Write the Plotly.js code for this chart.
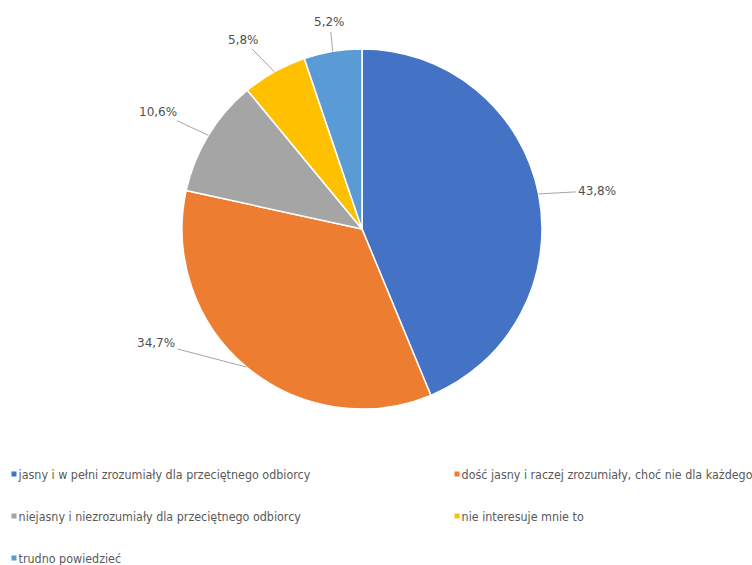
<!DOCTYPE html>
<html>
<head>
<meta charset="utf-8">
<script src="https://cdn.plot.ly/plotly-3.0.1.min.js"></script>
<style>
html,body{margin:0;padding:0;background:#fff;}
#chart{width:752px;height:565px;}
.legend .scrollbox{clip-path:none !important;}
.legendpoints path{transform:scale(0.42);stroke-width:0 !important;}
.legend .legendtext{transform:translate(-45px,0) scale(1.24);}
.legend .traces:nth-child(even) .legendpoints path{transform:translate(78px,0) scale(0.42);}
.legend .traces:nth-child(even) .legendtext{transform:translate(33px,0) scale(1.24);}
</style>
</head>
<body>
<div id="chart"></div>
<script>
const categories = [
  "jasny i w pełni zrozumiały dla przeciętnego odbiorcy",
  "dość jasny i raczej zrozumiały, choć nie dla każdego",
  "niejasny i niezrozumiały dla przeciętnego odbiorcy",
  "nie interesuje mnie to",
  "trudno powiedzieć"
];
const values = [43.8, 34.7, 10.6, 5.8, 5.2];
const colors = ["#4472C4", "#ED7D31", "#A5A5A5", "#FFC000", "#5B9BD5"];
// label placement tweak (degrees) relative to slice mid-angle
const labelAngleShift = [2, 21, -1.5, -3, 0.5];

const W = 752, H = 565;
const cx = 362, cy = 229, R = 180;

const total = values.reduce((a, b) => a + b, 0);
const annotations = [];
let cum = 0;
values.forEach((v, i) => {
  const mid = (cum + v / 2) / total * 2 * Math.PI;
  cum += v;
  const ex = cx + R * Math.sin(mid), ey = cy - R * Math.cos(mid);
  const la = mid + labelAngleShift[i] * Math.PI / 180;
  const s = Math.sin(la), c = Math.cos(la);
  const lr = R + 18 + Math.abs(s) * 40 + Math.abs(c) * 5;
  const lx = cx + lr * s, ly = cy - lr * c;
  annotations.push({
    xref: 'paper', yref: 'paper',
    x: ex / W, y: 1 - ey / H,
    ax: lx - ex, ay: ly - ey,
    text: v.toFixed(1).replace('.', ',') + '%',
    showarrow: true, arrowhead: 0, arrowwidth: 1, arrowcolor: '#A6A6A6',
    standoff: 0, startstandoff: 1,
    font: {family: 'DejaVu Sans, Verdana, sans-serif', size: 12, color: '#505050'}
  });
});

const trace = {
  type: 'pie',
  labels: categories.map(c => ' <br>' + c + '<br> '),
  values: values,
  sort: false,
  direction: 'clockwise',
  rotation: 0,
  marker: {colors: colors, line: {color: '#FFFFFF', width: 1.5}},
  textinfo: 'none',
  hoverinfo: 'label+value',
  domain: {x: [(cx - R) / W, (cx + R) / W], y: [1 - (cy + R) / H, 1 - (cy - R) / H]}
};

const layout = {
  width: W, height: H,
  margin: {l: 0, r: 0, t: 0, b: 0, autoexpand: false},
  paper_bgcolor: '#FFFFFF',
  showlegend: true,
  separators: ', ',
  annotations: annotations,
  legend: {
    orientation: 'h',
    x: 14 / W, xanchor: 'left',
    y: 1 - 448 / H, yanchor: 'top',
    entrywidth: 320, entrywidthmode: 'pixels',
    itemwidth: 30,
    valign: 'middle',
    traceorder: 'normal',
    font: {family: 'Liberation Sans Narrow, DejaVu Sans Condensed, sans-serif', size: 10, color: '#595959'}
  }
};

Plotly.newPlot('chart', [trace], layout, {displayModeBar: false, staticPlot: true});
</script>
</body>
</html>
